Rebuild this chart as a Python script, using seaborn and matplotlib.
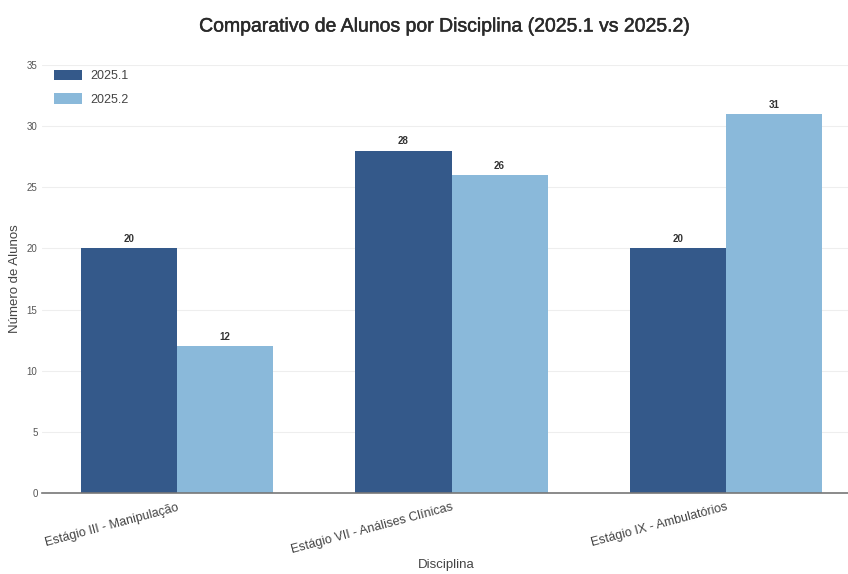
import pandas as pd
import matplotlib.pyplot as plt
import matplotlib.patheffects as pe
import seaborn as sns

# Dados
disciplinas = ['Estágio III - Manipulação', 'Estágio VII - Análises Clínicas', 'Estágio IX - Ambulatórios']
alunos_2025_1 = [20, 28, 20]
alunos_2025_2 = [12, 26, 31]
semestres = ['2025.1', '2025.2']

df = pd.DataFrame({
    'Disciplina': disciplinas * 2,
    'Alunos': alunos_2025_1 + alunos_2025_2,
    'Semestre': [semestres[0]] * 3 + [semestres[1]] * 3,
})

sns.set_style('whitegrid')
plt.rcParams['font.family'] = ['Liberation Sans Narrow', 'Liberation Sans', 'DejaVu Sans']

fig = plt.figure(figsize=(8.48, 5.74), dpi=100)
ax = fig.add_axes([0.05, 0.141, 0.952, 0.746])

cores = ['#34598a', '#8ab9da']
sns.barplot(data=df, x='Disciplina', y='Alunos', hue='Semestre', palette=cores,
            width=0.7, saturation=1, linewidth=0, ax=ax)

for cont in ax.containers:
    ax.bar_label(cont, fontsize=7, fontweight='bold', color='#333333', padding=3)

ax.set_xlim(-0.49, 2.45)
ax.set_ylim(0, 35)
ax.set_yticks(range(0, 36, 5))
ax.grid(axis='y', color='#eeeeee', linewidth=0.8)
ax.grid(axis='x', visible=False)
for s in ['top', 'right', 'left']:
    ax.spines[s].set_visible(False)
ax.spines['bottom'].set_color('#777777')
ax.spines['bottom'].set_linewidth(1.2)

ax.tick_params(axis='y', labelsize=7, colors='#555555', length=0)
ax.tick_params(axis='x', labelsize=9, colors='#444444', length=0, pad=6)
plt.setp(ax.get_xticklabels(), rotation=15, ha='right', rotation_mode='anchor')

ax.set_xlabel('Disciplina', fontsize=9.5, color='#444444')
ax.xaxis.set_label_coords(0.5, -0.155)
ax.set_ylabel('Número de Alunos', fontsize=9.5, color='#444444')
ax.set_title('Comparativo de Alunos por Disciplina (2025.1 vs 2025.2)', fontsize=14,
             color='#2a2a2a', pad=24,
             path_effects=[pe.withStroke(linewidth=0.35, foreground='#2a2a2a')])

ax.legend(loc='upper left', frameon=False, fontsize=9, bbox_to_anchor=(0.0, 1.015),
          handlelength=2.3, handleheight=0.9, handletextpad=0.6, labelspacing=0.9,
          labelcolor='#444444')

fig.savefig('out.png', dpi=100)
